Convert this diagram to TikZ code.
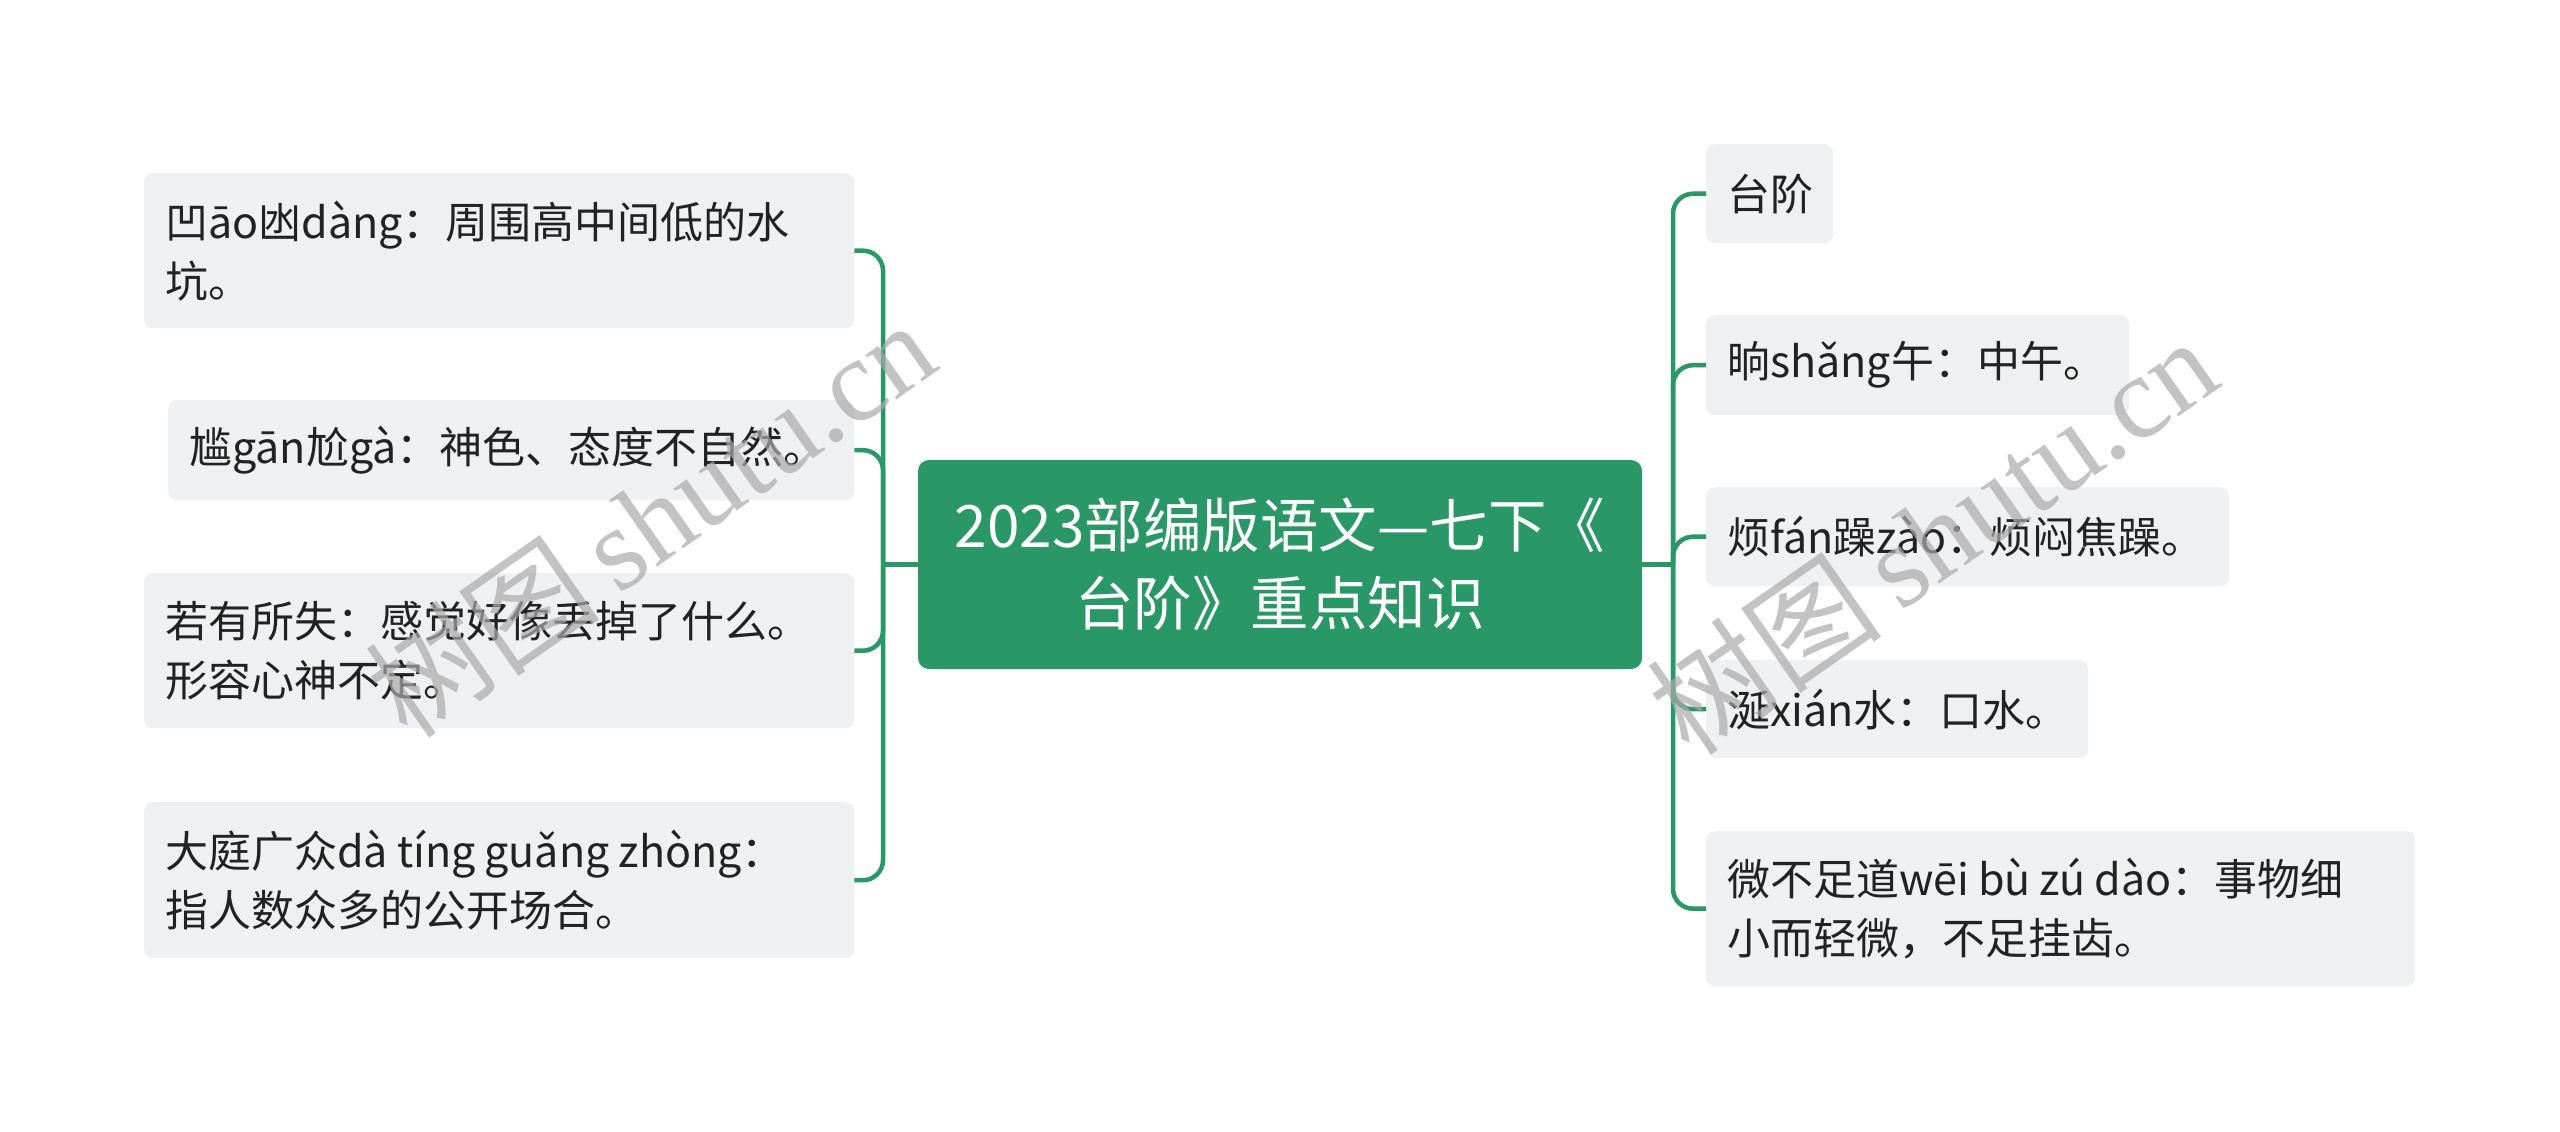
\documentclass[tikz,border=0pt]{standalone}
\usepackage{fontspec}
\setmainfont{Noto Sans CJK SC}
\newfontfamily\wmcjk{Noto Sans CJK SC}
\newfontfamily\wmlat{Liberation Serif}
\definecolor{mmgreen}{RGB}{42,152,102}
\definecolor{boxbg}{RGB}{238,240,243}
\definecolor{txt}{RGB}{34,34,34}
\definecolor{wm}{RGB}{170,170,170}
\hyphenpenalty=10000
\exhyphenpenalty=10000
\begin{document}
\begin{tikzpicture}[x=1pt,y=-1pt,
  leaf/.style={rounded corners=9pt, fill=boxbg, text=txt, inner xsep=21pt, inner ysep=0pt,
    align=left, anchor=north west, font=\fontsize{43}{59}\selectfont},
  root/.style={rounded corners=11pt, fill=mmgreen, text=white, align=center,
    font=\fontsize{58.5}{78}\selectfont, minimum width=724pt, minimum height=209pt, inner sep=0pt},
  conn/.style={draw=mmgreen, line width=4.5pt, rounded corners=20pt},
  wmark/.style={text=wm, opacity=0.7, rotate=35, inner sep=0pt}
]
\useasboundingbox (0,0) rectangle (2560,1132);
\fill[white] (0,0) rectangle (2560,1132);

% connectors
\coordinate (lb) at (883,564.5);
\coordinate (rb) at (1673,564.5);

% root
\node[root] (root) at (1280,564.5) {2023部编版语文—七下《\\台阶》重点知识};

% left leaves
\node[leaf, minimum width=710pt, minimum height=155pt, text width=668pt] (L1) at (144,173)
  {凹āo凼dàng：周围高中间低的水\\坑。};
\node[leaf, minimum width=686pt, minimum height=100pt, text width=644pt] (L2) at (168,400)
  {尴gān尬gà：神色、态度不自然。};
\node[leaf, minimum width=710pt, minimum height=155pt, text width=668pt] (L3) at (144,573)
  {若有所失：感觉好像丢掉了什么。\\形容心神不定。};
\node[leaf, minimum width=710pt, minimum height=156pt, text width=668pt] (L4) at (144,802)
  {大庭广众dà\hspace{9pt}tíng\hspace{9pt}guǎng\hspace{9pt}zhòng：\\指人数众多的公开场合。};

% right leaves
\node[leaf, minimum width=127pt, minimum height=99pt, text width=85pt] (R1) at (1706,144)
  {台阶};
\node[leaf, minimum width=423pt, minimum height=100pt, text width=381pt] (R2) at (1706,315)
  {晌shǎng午：中午。};
\node[leaf, minimum width=523pt, minimum height=99pt, text width=481pt] (R3) at (1706,487)
  {烦fán躁zào：烦闷焦躁。};
\node[leaf, minimum width=382pt, minimum height=98pt, text width=340pt] (R4) at (1706,660)
  {涎xián水：口水。};
\node[leaf, minimum width=709pt, minimum height=155pt, text width=667pt] (R5) at (1706,831)
  {微不足道wēi\hspace{9pt}bù\hspace{9pt}zú\hspace{9pt}dào：事物细\\小而轻微，不足挂齿。};

\draw[conn] (root.west) -- (lb);
\draw[conn] (root.east) -- (rb);
\foreach \n in {L1,L2,L3,L4} \draw[conn] (lb) |- (\n.east);
\foreach \n in {R1,R2,R3,R4,R5} \draw[conn] (rb) |- (\n.west);

% watermarks
\node[wmark] (wm1) at (650,518) {\fontsize{118}{118}\selectfont{\wmcjk 树图}\,{\wmlat shutu.cn}};
\node[wmark] (wm2) at (1932,535) {\fontsize{118}{118}\selectfont{\wmcjk 树图}\,{\wmlat shutu.cn}};
\end{tikzpicture}
\end{document}
